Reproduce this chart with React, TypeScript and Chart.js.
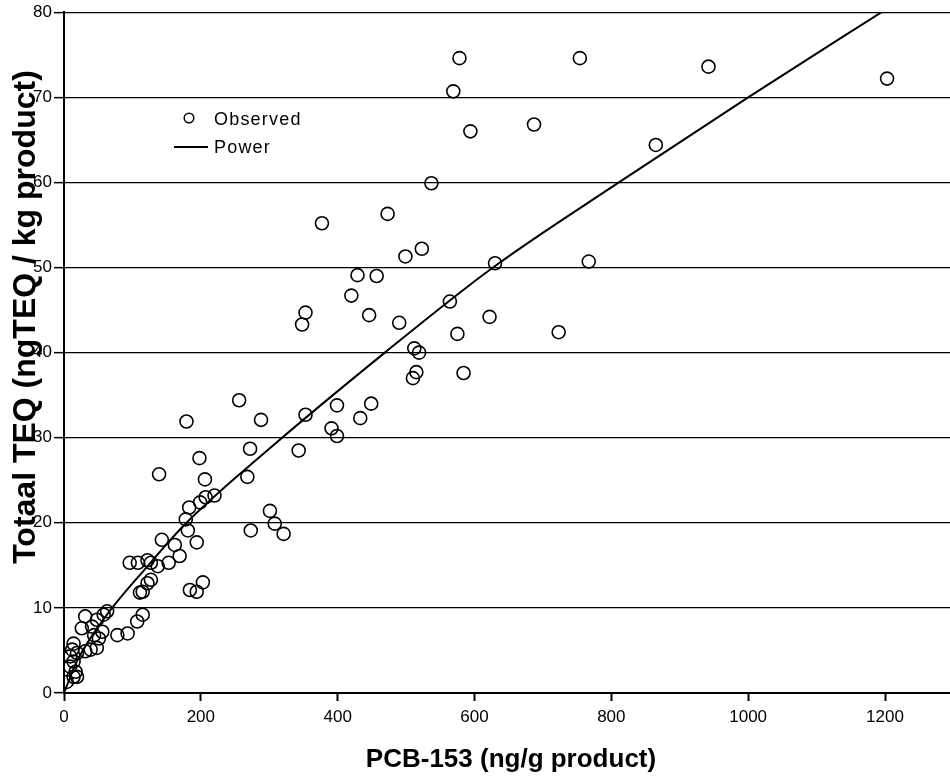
import React, { useEffect, useRef } from "react";
import { Chart, registerables } from "chart.js";

Chart.register(...registerables);

// Observed points (PCB-153 ng/g product, Totaal TEQ ngTEQ/kg product)
const obsX = [
  578, 754, 569, 942, 1203, 594, 687, 865, 537, 473, 377, 523, 499, 630, 767,
  429, 457, 420, 446, 490, 564, 622, 723, 575, 512, 519, 515, 510, 584, 348,
  353, 399, 449, 433, 391, 399, 256, 179, 288, 353, 272, 343, 198, 139, 268,
  206, 220, 207, 199, 183, 178, 181, 194, 301, 308, 321, 273, 143, 162, 169,
  96, 108, 122, 127, 137, 153, 127, 122, 115, 111, 184, 194, 203, 115, 107,
  93, 78, 63, 58, 31, 48, 26, 41, 56, 44, 51, 48, 39, 31, 14, 12, 19, 9, 14,
  9, 17, 14, 19, 4,
];
const obsY = [
  74.6, 74.6, 70.7, 73.6, 72.2, 66.0, 66.8, 64.4, 59.9, 56.3, 55.2, 52.2, 51.3,
  50.5, 50.7, 49.1, 49.0, 46.7, 44.4, 43.5, 46.0, 44.2, 42.4, 42.2, 40.5, 40.0,
  37.7, 37.0, 37.6, 43.3, 44.7, 33.8, 34.0, 32.3, 31.1, 30.2, 34.4, 31.9, 32.1,
  32.7, 28.7, 28.5, 27.6, 25.7, 25.4, 25.1, 23.2, 23.0, 22.4, 21.8, 20.4, 19.1,
  17.7, 21.4, 19.9, 18.7, 19.1, 18.0, 17.4, 16.1, 15.3, 15.3, 15.6, 15.3, 14.9,
  15.3, 13.3, 12.9, 11.9, 11.8, 12.1, 11.9, 13.0, 9.2, 8.4, 7.0, 6.8, 9.6, 9.2,
  9.0, 8.6, 7.6, 7.8, 7.2, 6.8, 6.4, 5.3, 5.1, 4.9, 5.8, 5.1, 4.7, 4.3, 3.7,
  3.1, 2.5, 1.9, 1.9, 1.3,
];

// Power fit line
const fitX = [0, 20, 60, 121, 179, 300, 469, 627, 811, 1000, 1195];
const fitY = [0, 3.9, 8.9, 14.8, 20, 28.7, 40, 50, 60, 70, 80];

const xTitle = "PCB-153 (ng/g product)";
const yTitle = "Totaal TEQ (ngTEQ / kg product)";
const legendLabels = ["Observed", "Power"];

const FONT = '"Liberation Sans", Arial, sans-serif';

export default function App() {
  const ref = useRef<HTMLCanvasElement | null>(null);

  useEffect(() => {
    const canvas = ref.current;
    if (!canvas) return;

    const overlay = {
      id: "overlay",
      afterDraw(chart: any) {
        const ctx = chart.ctx;
        ctx.save();
        ctx.fillStyle = "#000";
        ctx.strokeStyle = "#000";
        // x title
        ctx.font = `bold 26px ${FONT}`;
        ctx.textAlign = "center";
        ctx.textBaseline = "alphabetic";
        ctx.fillText(xTitle, 511, 767);
        // y title
        ctx.save();
        ctx.translate(35, 317);
        ctx.rotate(-Math.PI / 2);
        ctx.font = `bold 32px ${FONT}`;
        ctx.fillText(yTitle, 0, 0);
        ctx.restore();
        // legend
        ctx.lineWidth = 1.5;
        ctx.beginPath();
        ctx.arc(189, 118, 4.8, 0, Math.PI * 2);
        ctx.stroke();
        ctx.beginPath();
        ctx.moveTo(174, 147);
        ctx.lineTo(208, 147);
        ctx.lineWidth = 2;
        ctx.stroke();
        ctx.font = `18px ${FONT}`;
        ctx.textAlign = "left";
        ctx.textBaseline = "middle";
        try {
          (ctx as any).letterSpacing = "1.2px";
        } catch (e) {}
        ctx.fillText(legendLabels[0], 214, 120);
        ctx.fillText(legendLabels[1], 214, 148);
        ctx.restore();
      },
    };

    const chart = new Chart(canvas, {
      type: "scatter",
      data: {
        datasets: [
          {
            label: legendLabels[0],
            data: obsX.map((x, i) => ({ x, y: obsY[i] })),
            pointStyle: "circle",
            pointRadius: 6.5,
            pointBorderWidth: 1.6,
            pointBorderColor: "#000",
            pointBackgroundColor: "rgba(0,0,0,0)",
            showLine: false,
          },
          {
            label: legendLabels[1],
            type: "line",
            data: fitX.map((x, i) => ({ x, y: fitY[i] })),
            borderColor: "#000",
            borderWidth: 2,
            pointRadius: 0,
            fill: false,
            cubicInterpolationMode: "monotone",
          } as any,
        ],
      },
      options: {
        animation: false,
        responsive: false,
        devicePixelRatio: 1,
        layout: { autoPadding: false, padding: { top: 12, right: 0, left: 0, bottom: 0 } },
        plugins: {
          legend: { display: false },
          tooltip: { enabled: false },
        },
        scales: {
          x: {
            type: "linear",
            min: 0,
            max: 1295,
            afterFit: (s: any) => {
              s.height = 83;
              s.paddingRight = 0;
              s.paddingLeft = 0;
            },
            border: { color: "#000", width: 2 },
            grid: {
              drawOnChartArea: false,
              drawTicks: true,
              tickLength: 8,
              tickColor: "#000",
              tickWidth: 2,
            },
            ticks: {
              stepSize: 200,
              includeBounds: false,
              color: "#000",
              font: { family: FONT, size: 17 },
              padding: 6,
              maxRotation: 0,
              callback: (v: any) => String(v),
            },
          },
          y: {
            type: "linear",
            min: 0,
            max: 80,
            afterFit: (s: any) => {
              s.width = 64;
            },
            border: { color: "#000", width: 2 },
            grid: {
              color: "#000",
              lineWidth: 1.3,
              drawTicks: true,
              tickLength: 10,
              tickColor: "#000",
              tickWidth: 1.5,
            },
            ticks: {
              stepSize: 10,
              color: "#000",
              font: { family: FONT, size: 17 },
              padding: 2,
              callback: (v: any) => String(v),
            },
          },
        },
      },
      plugins: [overlay],
    });

    return () => chart.destroy();
  }, []);

  return (
    <div style={{ position: "absolute", left: 0, top: 0, width: 950, height: 776, background: "#fff" }}>
      <canvas ref={ref} width={950} height={776} style={{ display: "block" }} />
    </div>
  );
}
